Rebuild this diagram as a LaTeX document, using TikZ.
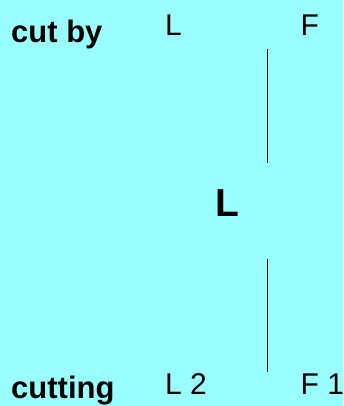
\documentclass[tikz,border=0pt]{standalone}
\usepackage{fontspec}
\setmainfont{Liberation Sans}
\usepackage{tikz}
\usetikzlibrary{positioning}
\definecolor{bgcyan}{RGB}{153,255,255}

\begin{document}
\begin{tikzpicture}[x=1pt, y=1pt,
   lbl/.style={inner sep=0pt, anchor=base west, font=\fontsize{30}{36}\selectfont},
   hdr/.style={lbl, font=\fontsize{31}{37}\selectfont\bfseries},
   big/.style={inner sep=0pt, anchor=base west, font=\fontsize{39}{46}\selectfont\bfseries},
   bar/.style={line width=1pt}]
\useasboundingbox[fill=bgcyan] (0,0) rectangle (343,406);
\node[hdr] (cutby) at (11,363) {cut by};
\node[hdr] (cutting) at (11,8) {cutting};
\node[lbl] (Ltop) at (165,370) {L};
\node[lbl] (Ftop) at (300.5,370) {F};
\node[lbl] (Lbot) at (165,11) {L 2};
\node[lbl] (Fbot) at (300.5,11) {F 1};
\node[big] (Lmid) at (215,189) {L};
\coordinate (a1) at (267.5,357);
\coordinate (a2) at (267.5,243);
\coordinate (b1) at (267.5,147);
\coordinate (b2) at (267.5,34);
\draw[bar] (a1)--(a2);
\draw[bar] (b1)--(b2);
\end{tikzpicture}
\end{document}
